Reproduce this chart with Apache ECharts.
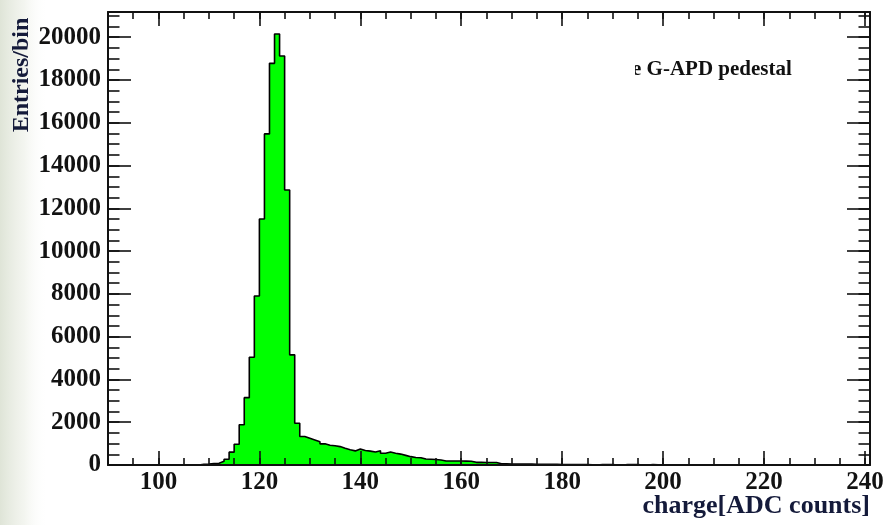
<!DOCTYPE html>
<html>
<head>
<meta charset="utf-8">
<script src="https://cdn.jsdelivr.net/npm/echarts@6/dist/echarts.min.js"></script>
<style>
html,body{margin:0;padding:0;background:#fff;}
#c{width:888px;height:525px;}
</style>
</head>
<body>
<div id="c"></div>
<script>
// ---- data ----
const binStart = 90;          // left edge of first bin (bin width = 1 ADC count)
const counts = [
  // 90-107
  0,0,0,0,0,0,0,0,0,0,0,0,0,0,0,0,0,0,
  // 108-119
  30,40,65,85,170,270,600,970,1880,3150,5040,7900,
  // 120-129
  11500,15480,18780,20150,19120,12860,5150,1950,1330,1250,
  // 130-139
  1170,1090,990,920,900,860,780,710,660,750,
  // 140-149
  680,650,610,670,550,610,550,510,450,390,
  // 150-159
  350,340,280,270,260,235,190,190,185,185,
  // 160-169
  180,175,125,125,120,120,115,60,55,50,
  // 170-179
  45,45,40,40,35,35,30,30,30,25,
  // 180-189
  25,25,20,20,20,15,0,25,25,25,
  // 190-199
  0,0,25,20,20,0,0,20,15,0,
  // 200-240
  0,0,0,0,0,0,0,0,0,0,0,0,0,0,0,0,0,0,0,0,
  0,0,0,0,0,0,0,0,0,0,0,0,0,0,0,0,0,0,0,0,0
];
const xMajorTicks = [100,120,140,160,180,200,220,240];
const xMinorTicks = [90,95,100,105,110,115,120,125,130,135,140,145,150,155,160,165,170,175,180,185,190,195,200,205,210,215,220,225,230,235,240];
const yMajorTicks = [0,2000,4000,6000,8000,10000,12000,14000,16000,18000,20000];
const yMinorTicks = [0,500,1000,1500,2000,2500,3000,3500,4000,4500,5000,5500,6000,6500,7000,7500,8000,8500,9000,9500,10000,10500,11000,11500,12000,12500,13000,13500,14000,14500,15000,15500,16000,16500,17000,17500,18000,18500,19000,19500,20000,20500,21000];
const xMin = 90, xMax = 241, yMin = 0, yMax = 21180;
const xTitle = 'charge[ADC counts]';
const yTitle = 'Entries/bin';
const legendText = 'e G-APD pedestal';

// ---- build ----
const histData = counts.map((c, i) => [binStart + i, c]);
histData.push([binStart + counts.length, 0]);

const FONT = 'Liberation Serif';
const TXT = '#121212';
const plain = v => String(v);

function xAx(pos, ticks, len, labels, line) {
  return {
    type: 'value', position: pos, min: xMin, max: xMax, z: 10,
    splitLine: {show: false},
    axisLine: {show: line, onZero: false, lineStyle: {color: '#111', width: 2}},
    axisTick: {show: true, inside: true, length: len, customValues: ticks, lineStyle: {color: '#111', width: 1.6}},
    axisLabel: labels ? {show: true, customValues: xMajorTicks, formatter: plain, margin: 5, fontFamily: FONT, fontWeight: 'bold', fontSize: 25, color: TXT} : {show: false}
  };
}
function yAx(pos, ticks, len, labels, line) {
  return {
    type: 'value', position: pos, min: yMin, max: yMax, z: 10,
    splitLine: {show: false},
    axisLine: {show: line, onZero: false, lineStyle: {color: '#111', width: 2}},
    axisTick: {show: true, inside: true, length: len, customValues: ticks, lineStyle: {color: '#111', width: 1.6}},
    axisLabel: labels ? {show: true, customValues: yMajorTicks, formatter: plain, margin: 7, fontFamily: FONT, fontWeight: 'bold', fontSize: 25, color: TXT} : {show: false}
  };
}

const chart = echarts.init(document.getElementById('c'), null, {renderer: 'canvas'});
chart.setOption({
  animation: false,
  backgroundColor: '#ffffff',
  grid: {left: 108, right: 18, top: 12, bottom: 60, containLabel: false},
  xAxis: [
    xAx('bottom', xMajorTicks, 14, true, true),
    xAx('bottom', xMinorTicks, 7, false, false),
    xAx('top', xMajorTicks, 14, false, true),
    xAx('top', xMinorTicks, 7, false, false)
  ],
  yAxis: [
    yAx('left', yMajorTicks, 23, true, true),
    yAx('left', yMinorTicks, 11.5, false, false),
    yAx('right', yMajorTicks, 23, false, true),
    yAx('right', yMinorTicks, 11.5, false, false)
  ],
  series: [{
    type: 'line',
    xAxisIndex: 0, yAxisIndex: 0,
    step: 'end',
    symbol: 'none',
    data: histData,
    lineStyle: {color: '#000', width: 1.6},
    areaStyle: {color: '#00ff00', opacity: 1},
    z: 3
  }],
  graphic: [
    {
      type: 'rect', z: -10, silent: true,
      shape: {x: 0, y: 0, width: 48, height: 525},
      style: {fill: new echarts.graphic.LinearGradient(0, 0, 1, 0, [
        {offset: 0, color: 'rgba(196,206,182,0.55)'},
        {offset: 0.5, color: 'rgba(220,226,210,0.35)'},
        {offset: 1, color: 'rgba(255,255,255,0)'}
      ])}
    },
    {
      type: 'text', z: 20, x: 22, y: 75, rotation: Math.PI / 2,
      style: {text: yTitle, fontFamily: FONT, fontWeight: 'bold', fontSize: 24, fill: '#141a3a', align: 'center', verticalAlign: 'middle'}
    },
    {
      type: 'text', z: 20, x: 870, y: 506,
      style: {text: xTitle, fontFamily: FONT, fontWeight: 'bold', fontSize: 26, fill: '#141a3a', align: 'right', verticalAlign: 'middle'}
    },
    {
      type: 'text', z: 20, x: 632, y: 70,
      style: {text: legendText, fontFamily: FONT, fontWeight: 'bold', fontSize: 21, fill: '#111', align: 'left', verticalAlign: 'middle'}
    },
    {
      type: 'rect', z: 21, silent: true,
      shape: {x: 615, y: 50, width: 20, height: 40},
      style: {fill: '#ffffff'}
    }
  ]
});
</script>
</body>
</html>
